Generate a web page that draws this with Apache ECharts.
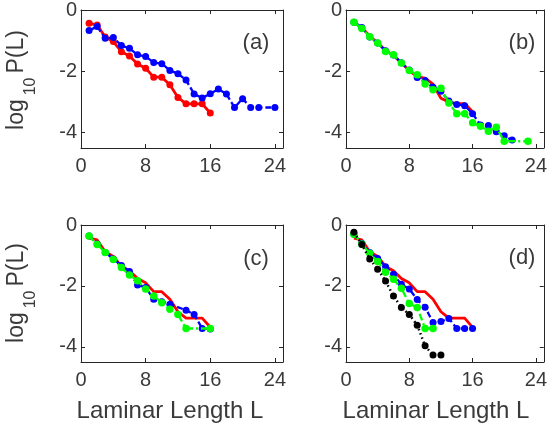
<!DOCTYPE html>
<html><head><meta charset="utf-8">
<script src="https://cdn.jsdelivr.net/npm/echarts@6/dist/echarts.min.js"></script>
<style>html,body{margin:0;padding:0;background:#fff}#c{width:550px;height:431px}</style>
</head><body><div id="c"></div>
<script>
// ---- data (x = laminar length L, y = log10 P(L)) ----
const xTicks = [0, 8, 16, 24];
const yTicks = [-4, -2, 0];
const panelLabels = ['(a)', '(b)', '(c)', '(d)'];

const redX = [1,2,3,4,5,6,7,8,9,10,11,12,13,14,15,16];
const redY = [-0.43,-0.49,-0.88,-1.03,-1.36,-1.5,-1.76,-1.9,-2.19,-2.19,-2.44,-2.85,-3.06,-3.06,-3.06,-3.36];

const aBlueX = [1,2,3,4,5,6,7,8,9,10,11,12,13,14,15,16,17,18,19,20,21,22,24];
const aBlueY = [-0.67,-0.54,-0.92,-0.9,-1.16,-1.25,-1.46,-1.52,-1.71,-1.75,-1.97,-2.08,-2.28,-2.74,-2.87,-2.73,-2.58,-2.74,-3.18,-2.89,-3.18,-3.18,-3.18];

const bRedX = [1,2,3,4,5,6,7,8,9,10,11,12,13,14,15,16];
const bRedY = [-0.4,-0.58,-0.85,-1.07,-1.32,-1.48,-1.73,-1.97,-2.18,-2.22,-2.42,-2.88,-3.0,-3.05,-3.05,-3.32];
const bBlueX = [1,2,3,4,5,6,7,8,9,10,11,12,13,14,15,16,17,18,19,20,21];
const bBlueY = [-0.4,-0.57,-0.88,-1.08,-1.33,-1.47,-1.72,-1.96,-2.2,-2.3,-2.52,-2.65,-2.97,-3.08,-3.12,-3.38,-3.75,-3.77,-3.97,-4.1,-4.24];
const bGreenX = [1,2,3,4,5,6,7,8,9,10,11,12,13,14,15,16,17,18,19,20,23];
const bGreenY = [-0.4,-0.6,-0.87,-1.08,-1.35,-1.46,-1.73,-1.97,-2.11,-2.41,-2.6,-2.55,-3.03,-3.38,-3.38,-3.68,-3.79,-3.95,-3.82,-4.28,-4.28];

const cBlueX = [1,2,3,4,5,6,7,8,9,10,11,13,14,15,16];
const cBlueY = [-0.36,-0.62,-0.9,-1.12,-1.33,-1.53,-1.97,-2.05,-2.44,-2.52,-2.6,-2.8,-2.94,-3.4,-3.42];
const cGreenX = [1,2,3,4,5,6,7,8,9,10,11,12,13,16];
const cGreenY = [-0.36,-0.64,-0.9,-1.13,-1.4,-1.64,-1.83,-2.1,-2.33,-2.55,-2.77,-2.94,-3.4,-3.4];

const dBlueX = [1,2,3,4,5,6,7,8,9,10,11,12,13,14,15,16];
const dBlueY = [-0.3,-0.6,-0.9,-1.1,-1.37,-1.62,-1.95,-2.1,-2.45,-2.7,-3.2,-3.17,-3.07,-3.4,-3.4,-3.4];
const dGreenX = [1,2,3,4,5,6,7,8,9,10,11];
const dGreenY = [-0.3,-0.62,-0.93,-1.2,-1.55,-1.78,-2.08,-2.58,-2.71,-3.4,-3.4];
const dBlackX = [1,2,3,4,5,6,7,8,9,10,11,12];
const dBlackY = [-0.24,-0.64,-1.12,-1.45,-1.84,-2.33,-2.71,-2.94,-3.29,-3.97,-4.27,-4.27];

// ---- layout ----
const FONT = 'Liberation Sans, Arial, Helvetica, sans-serif';
const AX = '#262626';
const TXT = '#3a3a3a';
const grids = [
  {left: 81, top: 10, width: 202, height: 138},
  {left: 346, top: 10, width: 203, height: 138},
  {left: 81, top: 225, width: 202, height: 137},
  {left: 346, top: 225, width: 203, height: 137}
];

const pair = (xs, ys) => xs.map((x, i) => [x, ys[i]]);

const xAxes = [], yAxes = [], series = [];
grids.forEach((g, i) => {
  const common = {
    gridIndex: i, type: 'value', axisLine: {show: true, onZero: false, lineStyle: {color: AX, width: 1}},
    splitLine: {show: false}
  };
  xAxes.push(Object.assign({}, common, {
    position: 'bottom', min: 0, max: 25,
    axisTick: {show: true, inside: true, length: 4, lineStyle: {color: AX}, customValues: xTicks},
    axisLabel: {show: true, customValues: xTicks, color: TXT, fontFamily: FONT, fontSize: 20, margin: 8}
  }));
  xAxes.push(Object.assign({}, common, {
    position: 'top', min: 0, max: 25,
    axisTick: {show: true, inside: true, length: 4, lineStyle: {color: AX}, customValues: xTicks},
    axisLabel: {show: false}
  }));
  yAxes.push(Object.assign({}, common, {
    position: 'left', min: -4.5, max: 0,
    axisTick: {show: true, inside: true, length: 4, lineStyle: {color: AX}, customValues: yTicks},
    axisLabel: {show: true, customValues: yTicks, color: TXT, fontFamily: FONT, fontSize: 20, margin: 4}
  }));
  yAxes.push(Object.assign({}, common, {
    position: 'right', min: -4.5, max: 0,
    axisTick: {show: true, inside: true, length: 4, lineStyle: {color: AX}, customValues: yTicks},
    axisLabel: {show: false}
  }));
});

function addSeries(panel, xs, ys, kind, markers) {
  const styles = {
    red:   {color: '#ff0000', width: 2.8, type: 'solid', size: 7, z: 2},
    blue:  {color: '#0000ff', width: 2.3, type: [6, 3], size: 7, z: 3},
    green: {color: '#00ff00', width: 2.3, type: [7, 3, 2, 3], size: 7.5, z: 4},
    black: {color: '#000000', width: 2.5, type: [1.5, 3], size: 7, z: 5}
  };
  const s = styles[kind];
  series.push({
    type: 'line', xAxisIndex: panel * 2, yAxisIndex: panel * 2, data: pair(xs, ys),
    showSymbol: markers, symbol: 'circle', symbolSize: s.size, z: s.z,
    itemStyle: {color: s.color, borderWidth: 0},
    lineStyle: {color: s.color, width: s.width, type: s.type, cap: 'butt'},
    animation: false, silent: true
  });
}
addSeries(0, redX, redY, 'red', true);
addSeries(0, aBlueX, aBlueY, 'blue', true);
addSeries(1, bRedX, bRedY, 'red', false);
addSeries(1, bBlueX, bBlueY, 'blue', true);
addSeries(1, bGreenX, bGreenY, 'green', true);
addSeries(2, redX, redY, 'red', false);
addSeries(2, cBlueX, cBlueY, 'blue', true);
addSeries(2, cGreenX, cGreenY, 'green', true);
addSeries(3, redX, redY, 'red', false);
addSeries(3, dBlueX, dBlueY, 'blue', true);
addSeries(3, dGreenX, dGreenY, 'green', true);
addSeries(3, dBlackX, dBlackY, 'black', true);

const graphics = [];
const labelPos = [[256, 43], [522, 43], [256, 259], [522, 258]];
panelLabels.forEach((t, i) => {
  graphics.push({type: 'text', x: labelPos[i][0], y: labelPos[i][1],
    style: {text: t, font: '22px ' + FONT, fill: TXT, align: 'center', verticalAlign: 'middle'}});
});
[[170, 411], [436, 411]].forEach(p => {
  graphics.push({type: 'text', x: p[0], y: p[1],
    style: {text: 'Laminar Length L', font: '24px ' + FONT, fill: TXT, align: 'center', verticalAlign: 'middle'}});
});
[[22, 80], [22, 293]].forEach(p => {
  graphics.push({type: 'text', x: p[0], y: p[1], rotation: Math.PI / 2,
    style: {text: '{m|log}{s|10}{m|P(L)}', fill: TXT, align: 'center', verticalAlign: 'middle',
      rich: {
        m: {fontFamily: FONT, fontSize: 23, fill: TXT, verticalAlign: 'top', lineHeight: 34, padding: [0, 1, 0, 1]},
        s: {fontFamily: FONT, fontSize: 16, fill: TXT, verticalAlign: 'bottom', lineHeight: 34, padding: [0, 3, 0, 3]}
      }}});
});

const chart = echarts.init(document.getElementById('c'), null, {renderer: 'canvas'});
chart.setOption({
  backgroundColor: '#ffffff', animation: false,
  grid: grids, xAxis: xAxes, yAxis: yAxes, series: series, graphic: graphics
});
</script></body></html>
